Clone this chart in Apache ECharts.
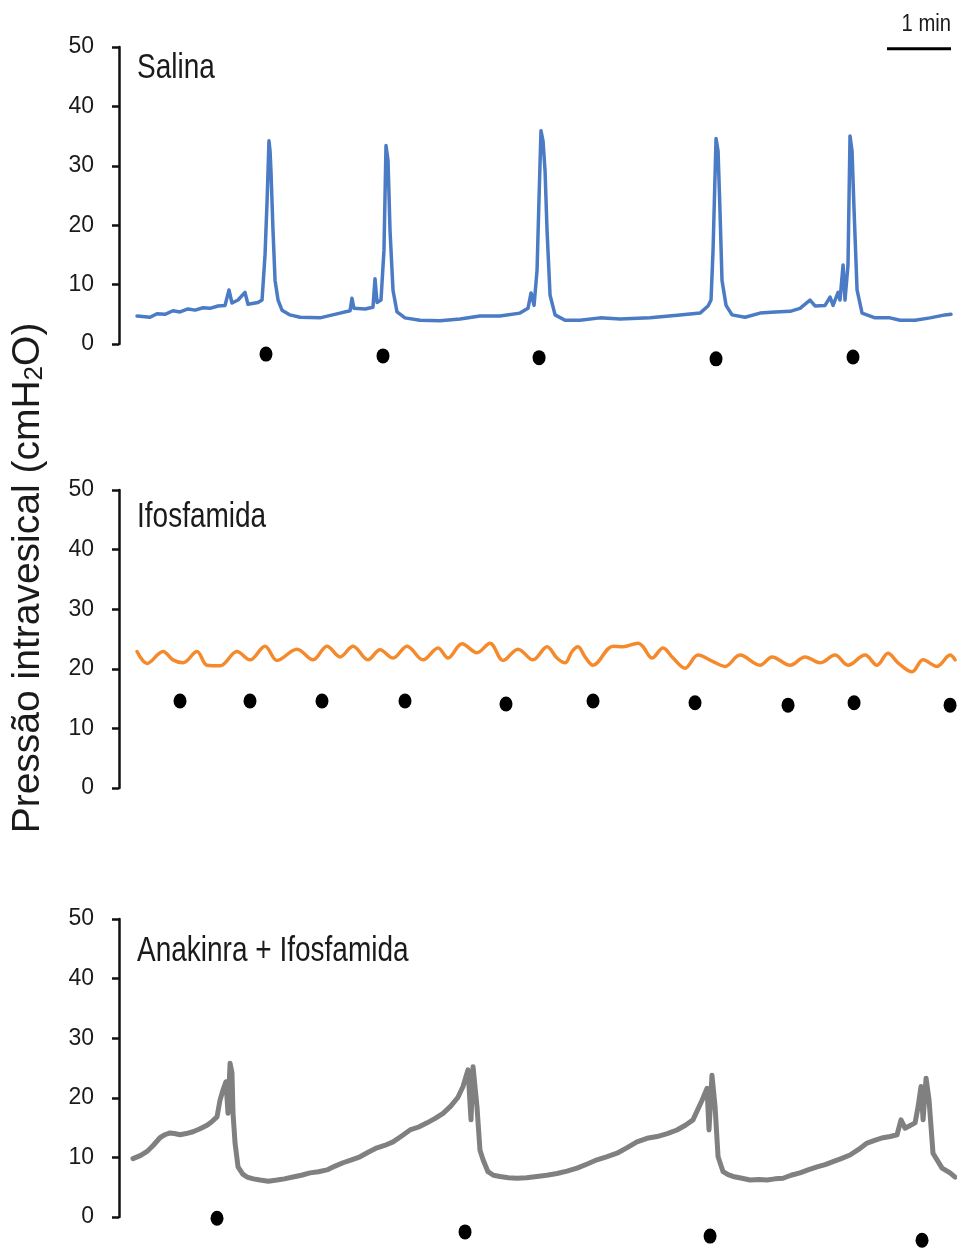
<!DOCTYPE html>
<html>
<head>
<meta charset="utf-8">
<script src="https://cdn.jsdelivr.net/npm/echarts@6.0.0/dist/echarts.min.js"></script>
<style>
  html, body { margin: 0; padding: 0; background: #fff; }
  #chart { width: 957px; height: 1248px; }
</style>
</head>
<body>
<div id="chart"></div>
<script>
// tempo em segundos, pressão em cmH2O
const salinaT = [16.9, 29.1, 35.6, 43.1, 50.6, 57.2, 64.7, 71.3, 78.8, 85.3, 92.8, 99.4, 103.1, 105.9, 111.6, 118.1, 120.9, 130.3, 134.1,
  136.9, 138.8, 140.6, 141.6, 142.5, 144.4, 146.3, 149.1, 152.8, 160.3, 169.7, 188.4, 207.2, 216.6, 218.4,
  220.3, 230.6, 238.1, 240, 241.9, 245.6, 248.4, 250.3, 252.2, 254.1, 256.9, 260.6, 268.1, 282.2, 300.9,
  319.7, 338.4, 357.2, 375.9, 383.4, 386.3, 389.1, 391.9, 393.8, 395.6, 397.5, 399.4, 401.3, 404.1, 408.8,
  418.1, 432.2, 450.9, 469.7, 497.8, 525.9, 544.7, 552.2, 555, 556.9, 559.7, 561.6, 563.4, 565.3, 569.1,
  574.7, 586.9, 601, 615, 629.1, 638.4, 647.8, 652.5, 661.9, 666.6, 669.4, 674.1, 675.9, 678.8, 680.6,
  683.4, 685.3, 687.2, 689.1, 691.9, 696.6, 708.8, 722.8, 732.2, 746.3, 760.3, 774.4, 780];
const salinaP = [4.7, 4.5, 5.1, 5.0, 5.6, 5.4, 5.9, 5.7, 6.1, 6.0, 6.4, 6.5, 9.1, 6.9, 7.4, 8.7, 6.7, 7.0, 7.4,
  15, 24, 34.2, 32.5, 29, 19, 10.7, 7.4, 5.7, 4.9, 4.5, 4.4, 5.2, 5.6, 7.7,
  6.0, 5.9, 6.2, 11, 7.0, 7.4, 15.8, 33.4, 30.9, 19, 9.0, 5.4, 4.4, 4.0, 3.9,
  4.2, 4.7, 4.7, 5.2, 6.0, 8.6, 6.5, 12.4, 24.8, 35.9, 34.2, 29.2, 19, 8.2, 4.9,
  4.0, 4.0, 4.4, 4.2, 4.4, 4.9, 5.2, 6.4, 7.4, 15.8, 34.6, 32.5, 22.5, 10.7, 6.5,
  4.9, 4.5, 5.2, 5.4, 5.5, 6.0, 7.4, 6.4, 6.5, 7.9, 6.5, 8.7, 7.4, 13.3, 7.4,
  13.3, 35, 32.5, 22.5, 9.1, 5.2, 4.4, 4.4, 4.0, 4.0, 4.4, 4.9, 5.0];

const ifosT = [16.9, 26.3, 41.3, 50.6, 60, 73.1, 82.5, 94.7, 110.6, 122.8, 136.9, 148.1, 166.9, 181.9,
  195, 207.2, 219.4, 233.4, 244.7, 256.9, 270, 285, 299.1, 308.4, 321.6, 335.6, 347.8, 360, 374.1,
  388.1, 401.3, 410.6, 418.1, 424.7, 430.3, 436.9, 444.4, 463.1, 472.5, 486.6, 491.3, 499.7, 510,
  519.4, 530.6, 542.8, 556.9, 568.1, 582.2, 600.9, 612.2, 629.1, 643.1, 657.2, 671.3, 683.4, 699.4,
  710.6, 720.9, 730.3, 743.4, 753.8, 766.9, 779.1, 783.8];
const ifosP = [22.9, 20.9, 22.9, 21.5, 21.0, 22.9, 20.6, 20.5, 22.9, 21.5, 23.8, 21.4, 23.3, 21.5,
  23.8, 22.0, 23.8, 21.5, 23.2, 21.8, 23.8, 21.5, 23.5, 21.8, 24.2, 22.7, 24.3, 21.4, 23.3,
  21.5, 23.7, 21.8, 21.0, 22.9, 23.7, 22.0, 20.6, 23.8, 23.7, 24.3, 23.7, 21.8, 23.5,
  21.8, 20.1, 22.3, 21.2, 20.4, 22.3, 20.6, 22.0, 20.6, 22.0, 21.0, 22.3, 20.6, 22.3,
  20.6, 22.6, 21.0, 19.5, 21.5, 20.4, 22.3, 21.5];

const anakT = [13.1, 20, 26.3, 32, 38.4, 43, 47.8, 52, 57.2, 63, 69.4, 76, 82.5, 87, 91.9,
  94.7, 97.5, 100.3, 102.2, 104.1, 105.9, 106.9, 108.8, 111.6, 116, 120, 126, 132.2, 140, 148.1, 155,
  163.1, 171, 179.1, 187, 195, 202, 210, 218, 225.9, 234, 241.9, 249, 256.9, 265, 272.8, 281, 288.8,
  296, 303.8, 311, 317.8, 322.5, 327.2, 330, 331.9, 335.6, 338.4, 341.3, 345.9, 351, 357.2, 365,
  373.1, 382, 391.9, 401, 410.6, 420, 429.4, 439, 448.1, 457, 466.9, 476, 485.6, 495, 504.4, 514,
  523.1, 531, 538.1, 546.6, 551.3, 553.1, 555.9, 558.8, 561.6, 566.3, 571, 575.6, 584, 591.6, 600,
  607.5, 615, 622.5, 630, 638.4, 646, 654.4, 662, 669.4, 677, 685.3, 693, 701.3, 709, 716.3, 723,
  729.4, 733.1, 736.9, 746.3, 749.1, 751.9, 753.8, 756.6, 759.4, 763.1, 771.6, 779.1, 783.8];
const anakP = [9.8, 10.3, 11.0, 12.0, 13.3, 13.8, 14.1, 14.0, 13.8, 14.0, 14.3, 14.8, 15.4, 16.0, 16.8,
  19.6, 21.3, 22.7, 17.4, 25.8, 24.2, 17.4, 12.4, 8.4, 7.2, 6.7, 6.4, 6.2, 6.0, 6.2, 6.4,
  6.7, 7.0, 7.4, 7.6, 7.9, 8.5, 9.1, 9.6, 10.1, 10.9, 11.6, 12.0, 12.6, 13.6, 14.6, 15.1, 15.8,
  16.5, 17.4, 18.6, 20.1, 21.9, 24.7, 16.3, 25.2, 18.5, 11.2, 9.6, 7.6, 7.0, 6.8, 6.6,
  6.5, 6.6, 6.8, 7.0, 7.3, 7.7, 8.2, 8.9, 9.6, 10.1, 10.7, 11.6, 12.6, 13.2, 13.5, 14.0,
  14.6, 15.4, 16.3, 19.6, 21.6, 14.6, 23.8, 18.5, 10.1, 7.6, 7.1, 6.8, 6.5, 6.2, 6.3,
  6.2, 6.4, 6.5, 7.0, 7.4, 7.9, 8.4, 8.8, 9.3, 9.8, 10.4, 11.3, 12.4, 12.9, 13.3, 13.5,
  13.8, 16.3, 14.9, 15.8, 18.5, 21.9, 16.3, 23.3, 19.6, 10.7, 8.2, 7.4, 6.7];

// micções (pontos pretos)
const salinaDotT = [137.8, 247.5, 393.8, 559.7, 688.1];
const salinaDotP = [-1.7, -2.0, -2.3, -2.5, -2.2];
const ifosDotT = [57.2, 122.8, 190.3, 268.1, 362.8, 444.4, 540, 627.2, 689.1, 779.1];
const ifosDotP = [14.6, 14.6, 14.6, 14.6, 14.1, 14.6, 14.3, 13.9, 14.3, 13.9];
const anakDotT = [91.9, 324.4, 554.1, 752.8];
const anakDotP = [-0.2, -2.5, -3.2, -3.9];

const yTicks = [0, 10, 20, 30, 40, 50];
const scaleBarT = [720, 780];
const panelNames = ['Salina', 'Ifosfamida', 'Anakinra + Ifosfamida'];

const chart = echarts.init(document.getElementById('chart'));

const regular = "'Liberation Sans', Arial, sans-serif";
const ink = '#1a1a1a';

const grids = [
  { left: 119, top: 47, width: 836.3, height: 297 },
  { left: 119, top: 490, width: 836.3, height: 298 },
  { left: 119, top: 919, width: 836.3, height: 298 }
];

function yAxisAt(i) {
  return {
    type: 'value', gridIndex: i, min: yTicks[0], max: yTicks[yTicks.length - 1], interval: 10,
    axisLine: { show: true, lineStyle: { color: '#111', width: 2.5 } },
    axisTick: { show: true, length: 7, lineStyle: { color: '#111', width: 2.5 } },
    axisLabel: { color: ink, fontSize: 23, fontFamily: regular, margin: 25 },
    splitLine: { show: false }
  };
}
function xAxisAt(i) {
  return { type: 'value', gridIndex: i, min: 0, max: 784, show: false };
}

function zip(t, p) { return t.map((v, i) => [v, p[i]]); }

function trace(i, t, p, color, w, smooth) {
  return {
    type: 'line', xAxisIndex: i, yAxisIndex: i, data: zip(t, p),
    showSymbol: false, symbol: 'none', clip: false, smooth: smooth || false,
    lineStyle: { color: color, width: w, join: 'round', cap: 'round' }
  };
}
function dots(i, t, p) {
  return {
    type: 'scatter', xAxisIndex: i, yAxisIndex: i, data: zip(t, p),
    symbol: 'circle', symbolSize: [13, 15], clip: false,
    itemStyle: { color: '#000', opacity: 1 }
  };
}
// títulos em letra estreita (escala horizontal)
function label(text, y) {
  return {
    type: 'text', x: 137, y: y, scaleX: 0.8,
    style: { text: text, fontSize: 35, fontFamily: regular, fill: ink, align: 'left', verticalAlign: 'middle' }
  };
}

const option = {
  backgroundColor: '#fff',
  animation: false,
  grid: grids.map(g => Object.assign({ outerBoundsMode: 'none' }, g)),
  xAxis: [0, 1, 2].map(xAxisAt),
  yAxis: [0, 1, 2].map(yAxisAt),
  series: [
    trace(0, salinaT, salinaP, '#4a7bc4', 3.5),
    dots(0, salinaDotT, salinaDotP),
    trace(1, ifosT, ifosP, '#f58a2c', 3.5, 0.35),
    dots(1, ifosDotT, ifosDotP),
    trace(2, anakT, anakP, '#808080', 5),
    dots(2, anakDotT, anakDotP),
    {
      type: 'line', xAxisIndex: 0, yAxisIndex: 0, clip: false,
      data: [[scaleBarT[0], 49.7], [scaleBarT[1], 49.7]],
      showSymbol: false, symbol: 'none',
      lineStyle: { color: '#000', width: 3 }
    }
  ],
  graphic: [
    label(panelNames[0], 68),
    label(panelNames[1], 517),
    label(panelNames[2], 951),
    {
      type: 'text', x: 951, y: 25, scaleX: 0.88,
      style: { text: '1 min', fontSize: 23, fontFamily: regular, fill: ink, align: 'right', verticalAlign: 'middle' }
    },
    {
      type: 'text', x: 28, y: 578, rotation: Math.PI / 2,
      style: {
        text: 'Pressão intravesical (cmH{sub|2}O)',
        fontSize: 39, fontFamily: regular, fill: ink,
        align: 'center', verticalAlign: 'middle',
        rich: { sub: { fontSize: 26, fontFamily: regular, fill: ink, verticalAlign: 'bottom', padding: [14, 0, 0, 0] } }
      }
    }
  ]
};

chart.setOption(option);
</script>
</body>
</html>
